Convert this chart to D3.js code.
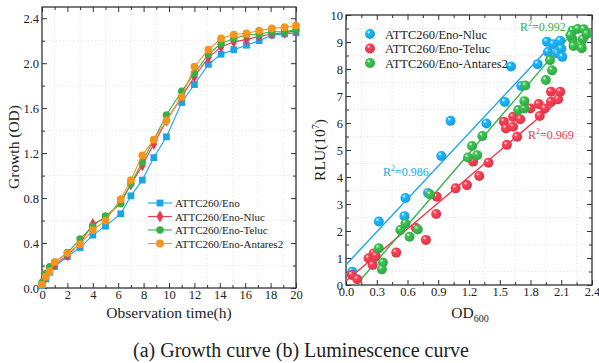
<!DOCTYPE html>
<html><head><meta charset="utf-8">
<script src="https://cdn.jsdelivr.net/npm/d3@7"></script>
<style>
body{margin:0;background:#fff}
svg{display:block}
svg text{font-family:"Liberation Serif","LiberationSerif","Tinos","DejaVu Serif",serif !important;fill:#222}
</style>
</head><body>
<svg id="c" width="599" height="363"></svg>
<script>
// ---------- (a) Growth curve data ----------
const times = [0, 0.3, 0.6, 1, 2, 3, 4, 5, 6.2, 7, 7.9, 8.8, 9.8, 11, 12, 13.1, 14.1, 15.1, 16.1, 17.1, 18.1, 19.1, 20];
const odEno      = [0.02, 0.08, 0.14, 0.19, 0.28, 0.36, 0.47, 0.55, 0.66, 0.82, 0.96, 1.16, 1.345, 1.65, 1.81, 1.99, 2.08, 2.12, 2.16, 2.20, 2.25, 2.26, 2.27];
const odNluc     = [0.05, 0.10, 0.16, 0.21, 0.29, 0.40, 0.57, 0.62, 0.77, 0.92, 1.09, 1.28, 1.49, 1.70, 1.88, 2.05, 2.145, 2.19, 2.21, 2.24, 2.26, 2.27, 2.29];
const odTeluc    = [0.05, 0.13, 0.19, 0.23, 0.315, 0.435, 0.55, 0.64, 0.75, 0.93, 1.12, 1.32, 1.54, 1.75, 1.91, 2.08, 2.175, 2.22, 2.25, 2.26, 2.28, 2.28, 2.30];
const odAntares2 = [0.03, 0.10, 0.15, 0.23, 0.31, 0.39, 0.515, 0.60, 0.79, 0.96, 1.18, 1.32, 1.49, 1.70, 1.97, 2.12, 2.22, 2.255, 2.265, 2.29, 2.31, 2.32, 2.335];
const growthNames = ["ATTC260/Eno", "ATTC260/Eno-Nluc", "ATTC260/Eno-Teluc", "ATTC260/Eno-Antares2"];
const growthX = [0, 2, 4, 6, 8, 10, 12, 14, 16, 18, 20];
const growthY = [0.0, 0.4, 0.8, 1.2, 1.6, 2.0, 2.4];

// ---------- (b) Luminescence data ----------
const nlucPoints = [[0.06,0.49],[0.27,1.0],[0.32,2.35],[0.57,2.55],[0.58,3.22],[0.80,3.41],[0.93,4.78],[1.02,6.08],[1.37,5.98],[1.55,6.78],[1.61,8.09],[1.71,7.37],[1.87,8.18],[1.96,9.01],[1.97,8.63],[2.02,8.92],[2.06,8.58],[2.09,9.05],[2.10,8.75],[2.11,8.45]];
const telucPoints = [[0.056,0.37],[0.11,0.21],[0.22,0.99],[0.27,1.17],[0.26,0.74],[0.29,1.08],[0.49,1.2],[0.68,2.12],[0.78,1.67],[0.88,2.63],[0.885,3.27],[1.07,3.58],[1.18,3.7],[1.30,4.04],[1.24,4.57],[1.39,4.53],[1.54,6.05],[1.56,5.8],[1.57,5.19],[1.63,6.23],[1.63,5.86],[1.67,5.49],[1.70,6.14],[1.80,6.54],[1.88,6.7],[1.89,6.26],[1.94,6.54],[2.0,7.16],[2.0,6.79],[2.07,6.88],[2.09,7.16]];
const antaresPoints = [[0.32,1.36],[0.36,0.83],[0.35,0.58],[0.53,2.04],[0.58,2.28],[0.62,1.79],[0.70,2.06],[0.82,3.35],[1.19,4.72],[1.28,4.81],[1.23,5.15],[1.33,5.52],[1.68,6.48],[1.74,6.54],[1.74,6.81],[1.75,7.39],[1.95,7.59],[2.01,7.95],[1.99,8.33],[2.21,9.1],[2.22,8.85],[2.29,8.89],[2.31,9.1],[2.21,9.42],[2.26,9.48],[2.32,9.47],[2.19,9.25],[2.35,9.3],[2.30,8.77]];
const fitNluc = [[0, 0.75], [1.97, 8.75]];
const fitTeluc = [[0, 0.15], [2.1, 6.9]];
const fitAntares = [[0.1, 0], [2.2, 9.3]];
const r2Labels = ["0.986", "0.969", "0.992"];
const lumNames = ["ATTC260/Eno-Nluc", "ATTC260/Eno-Teluc", "ATTC260/Eno-Antares2"];
const lumX = [0.0, 0.3, 0.6, 0.9, 1.2, 1.5, 1.8, 2.1, 2.4];
const lumY = [0, 1, 2, 3, 4, 5, 6, 7, 8, 9, 10];

const cBlue = "#1aa6e6", cRed = "#e63a4e", cGreen = "#36b149", cOrange = "#f7941e";
const SERIF = '"Liberation Serif","LiberationSerif","Tinos","DejaVu Serif",serif';
const svg = d3.select("#c");
const frameColor = "#333";

function frame(g, x, y, xMaj, xMin, yMaj, yMin, xFmt, yFmt) {
  const [x0, x1] = x.range(), [y0, y1] = y.range();
  const grid = g.append("g").attr("stroke", "#e2e2e2").attr("stroke-width", 0.8).attr("stroke-dasharray", "1.5,2");
  xMin.forEach(v => grid.append("line").attr("x1", x(v)).attr("x2", x(v)).attr("y1", y0).attr("y2", y1));
  yMin.forEach(v => grid.append("line").attr("y1", y(v)).attr("y2", y(v)).attr("x1", x0).attr("x2", x1));
  const bottom = g.append("g").attr("transform", `translate(0,${y0})`).call(d3.axisBottom(x).tickValues(xMaj).tickSize(-5).tickPadding(2).tickFormat(xFmt));
  const top = g.append("g").attr("transform", `translate(0,${y1})`).call(d3.axisTop(x).tickValues(xMaj).tickSize(-5).tickFormat(""));
  const left = g.append("g").attr("transform", `translate(${x0},0)`).call(d3.axisLeft(y).tickValues(yMaj).tickSize(-5).tickPadding(3).tickFormat(yFmt));
  const right = g.append("g").attr("transform", `translate(${x1},0)`).call(d3.axisRight(y).tickValues(yMaj).tickSize(-5).tickFormat(""));
  const bm = g.append("g").attr("transform", `translate(0,${y0})`).call(d3.axisBottom(x).tickValues(xMin).tickSize(-3).tickFormat(""));
  const tm = g.append("g").attr("transform", `translate(0,${y1})`).call(d3.axisTop(x).tickValues(xMin).tickSize(-3).tickFormat(""));
  const lm = g.append("g").attr("transform", `translate(${x0},0)`).call(d3.axisLeft(y).tickValues(yMin).tickSize(-3).tickFormat(""));
  const rm = g.append("g").attr("transform", `translate(${x1},0)`).call(d3.axisRight(y).tickValues(yMin).tickSize(-3).tickFormat(""));
  [bottom, top, left, right, bm, tm, lm, rm].forEach(a => {
    a.attr("font-family", SERIF);
    a.select(".domain").remove();
    a.selectAll("line").attr("stroke", frameColor).attr("stroke-width", 1);
    a.selectAll("text").attr("font-size", 12.5).attr("fill", "#222");
  });
  g.append("rect").attr("x", x0).attr("y", y1).attr("width", x1 - x0).attr("height", y0 - y1)
    .attr("fill", "none").attr("stroke", frameColor).attr("stroke-width", 1.3);
}

// ================= (a) =================
const ga = svg.append("g");
const xa = d3.scaleLinear().domain([0, 20]).range([42, 296]);
const ya = d3.scaleLinear().domain([0, 2.5]).range([288, 7]);
const xaMin = d3.range(1, 20, 2);
const yaMin = [0.2, 0.6, 1.0, 1.4, 1.8, 2.2];
frame(ga, xa, ya, growthX, xaMin, growthY, yaMin, d3.format("d"), d3.format(".1f"));

const growthSeries = [
  {name: growthNames[0], vals: odEno, color: cBlue, shape: d3.symbolSquare, size: 46},
  {name: growthNames[1], vals: odNluc, color: cRed, shape: d3.symbolDiamond, size: 40},
  {name: growthNames[2], vals: odTeluc, color: cGreen, shape: d3.symbolCircle, size: 44},
  {name: growthNames[3], vals: odAntares2, color: cOrange, shape: d3.symbolCircle, size: 48}
];
const lineA = d3.line().x((d, i) => xa(times[i])).y(d => ya(d));
growthSeries.forEach(s => {
  ga.append("path").attr("d", lineA(s.vals)).attr("fill", "none").attr("stroke", s.color).attr("stroke-width", 1.1);
  ga.selectAll(null).data(s.vals).enter().append("path")
    .attr("d", d3.symbol().type(s.shape).size(s.size))
    .attr("transform", (d, i) => `translate(${xa(times[i])},${ya(d)})`)
    .attr("fill", s.color);
});
growthSeries.forEach((s, i) => {
  const yy = 203 + i * 13.5;
  ga.append("line").attr("x1", 148).attr("x2", 172).attr("y1", yy).attr("y2", yy).attr("stroke", s.color).attr("stroke-width", 1.1);
  ga.append("path").attr("d", d3.symbol().type(s.shape).size(s.size)).attr("transform", `translate(160,${yy})`).attr("fill", s.color);
  ga.append("text").attr("x", 175).attr("y", yy + 4).attr("font-size", 11).text(s.name);
});
ga.append("text").attr("x", 169).attr("y", 318).attr("text-anchor", "middle").attr("font-size", 15.5).text("Observation time(h)");
ga.append("text").attr("transform", "translate(19,147) rotate(-90)").attr("text-anchor", "middle").attr("font-size", 15.5).text("Growth (OD)");

// ================= (b) =================
const gb = svg.append("g");
const xb = d3.scaleLinear().domain([0, 2.4]).range([346, 592]);
const yb = d3.scaleLinear().domain([0, 10]).range([285, 15]);
const xbMin = d3.range(0.15, 2.4, 0.3);
const ybMin = d3.range(0.5, 10, 1);
frame(gb, xb, yb, lumX, xbMin, lumY, ybMin, d3.format(".1f"), d3.format("d"));

const defs = svg.append("defs");
function ballGrad(id, c) {
  const gr = defs.append("radialGradient").attr("id", id).attr("cx", "40%").attr("cy", "38%").attr("r", "62%").attr("fx", "35%").attr("fy", "30%");
  gr.append("stop").attr("offset", "0%").attr("stop-color", "#ffffff");
  gr.append("stop").attr("offset", "28%").attr("stop-color", d3.color(c).brighter(0.3));
  gr.append("stop").attr("offset", "100%").attr("stop-color", d3.color(c).darker(0.2));
}
ballGrad("gBlue", cBlue); ballGrad("gRed", cRed); ballGrad("gGreen", cGreen);

const lumSeries = [
  {name: lumNames[0], pts: nlucPoints, fit: fitNluc, color: cBlue, grad: "gBlue"},
  {name: lumNames[1], pts: telucPoints, fit: fitTeluc, color: cRed, grad: "gRed"},
  {name: lumNames[2], pts: antaresPoints, fit: fitAntares, color: cGreen, grad: "gGreen"}
];
const lineB = d3.line().x(d => xb(d[0])).y(d => yb(d[1]));
lumSeries.forEach(s => {
  gb.append("path").attr("d", lineB(s.fit)).attr("stroke", s.color).attr("stroke-width", 1.4).attr("fill", "none");
});
lumSeries.forEach(s => {
  gb.selectAll(null).data(s.pts).enter().append("circle")
    .attr("cx", d => xb(d[0])).attr("cy", d => yb(d[1])).attr("r", 5)
    .attr("fill", `url(#${s.grad})`);
});
lumSeries.forEach((s, i) => {
  const yy = 34 + i * 14.5;
  gb.append("circle").attr("cx", 370).attr("cy", yy).attr("r", 5).attr("fill", `url(#${s.grad})`);
  gb.append("text").attr("x", 385).attr("y", yy + 4.5).attr("font-size", 12.5).text(s.name);
});
const r2Pos = [[383, 176], [528, 139], [520, 31]];
lumSeries.forEach((s, i) => {
  const t = gb.append("text").attr("x", r2Pos[i][0]).attr("y", r2Pos[i][1]).attr("font-size", 12).attr("style", `fill:${s.color}`);
  t.append("tspan").attr("style", `fill:${s.color}`).text("R");
  t.append("tspan").attr("style", `fill:${s.color}`).attr("dy", -5).attr("font-size", 8).text("2");
  t.append("tspan").attr("style", `fill:${s.color}`).attr("dy", 5).text("=" + r2Labels[i]);
});
const xt = gb.append("text").attr("x", 470).attr("y", 318).attr("text-anchor", "middle").attr("font-size", 15.5);
xt.append("tspan").text("OD");
xt.append("tspan").attr("dy", 4).attr("font-size", 10).text("600");
const ylab = gb.append("text").attr("transform", "translate(325,150) rotate(-90)").attr("text-anchor", "middle").attr("font-size", 15.5);
ylab.append("tspan").text("RLU(10");
ylab.append("tspan").attr("dy", -6).attr("font-size", 10).text("7");
ylab.append("tspan").attr("dy", 6).text(")");

svg.append("text").attr("x", 301).attr("y", 357).attr("text-anchor", "middle").attr("font-size", 20).text("(a) Growth curve (b) Luminescence curve");
</script>
</body></html>
